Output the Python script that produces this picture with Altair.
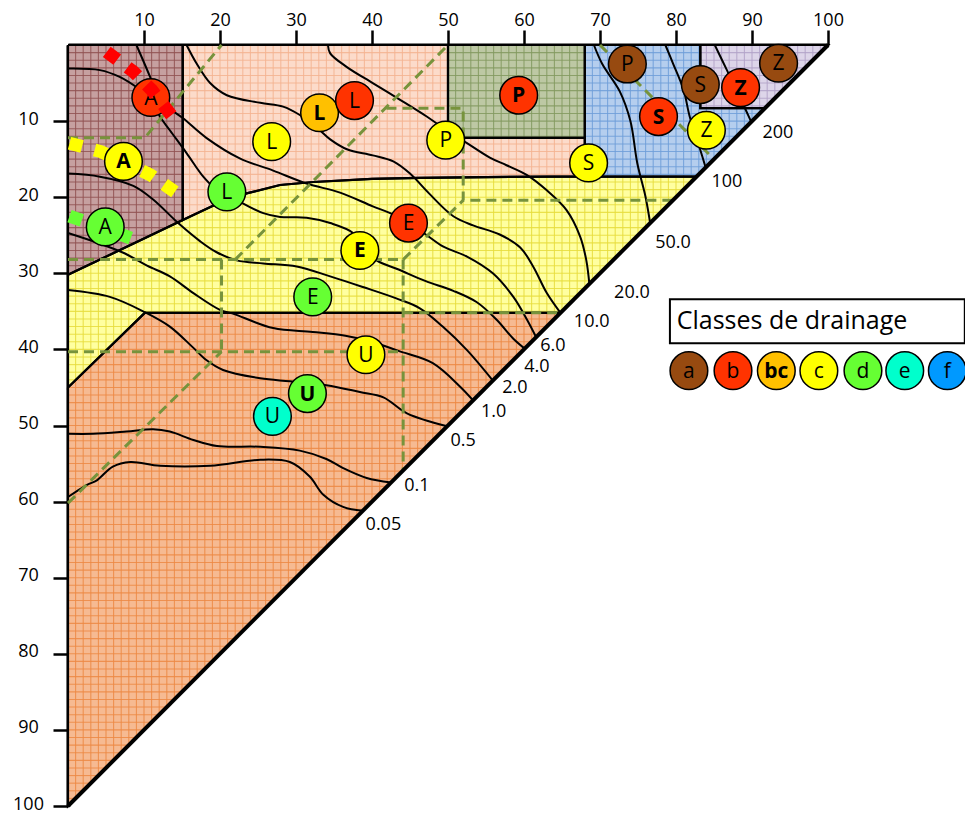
import altair as alt
import pandas as pd

# ---------------------------------------------------------------------------
# Data (x = top axis %, y = left axis %, origin top-left, hypotenuse x + y = 100)
# ---------------------------------------------------------------------------
yellow_top = [(0, 30.2), (15.1, 23.0), (17.4, 21.9), (20, 20.7), (23.5, 19.5),
              (27.9, 18.4), (32.3, 18.0), (40, 17.6), (46.3, 17.45), (55, 17.35),
              (63.4, 17.3), (82.7, 17.3)]

region_mauve = [(0, 0), (15.1, 0), (15.1, 23.0), (0, 30.2)]
region_peach = [(15.1, 0), (50, 0), (50, 12.2), (68, 12.2), (68, 17.3)] + yellow_top[1:-1][::-1]
region_yellow = yellow_top + [(64.8, 35.2), (10.1, 35.2), (0, 45)]
region_orange = [(0, 45), (10.1, 35.2), (64.8, 35.2), (0, 100)]
region_green = [(50, 0), (68, 0), (68, 12.2), (50, 12.2)]
region_blue = [(68, 0), (83.2, 0), (83.2, 8.3), (91.7, 8.3), (82.7, 17.3), (68, 17.3)]
region_purple = [(83.2, 0), (100, 0), (91.7, 8.3), (83.2, 8.3)]

# (polygon, fill, texture colour)
regions = [
    (region_orange, "#F6BA92", "#EC8844"),
    (region_yellow, "#FFFFA0", "#E6DC3C"),
    (region_mauve, "#C6A0A0", "#915252"),
    (region_peach, "#FCDBCA", "#F3B390"),
    (region_green, "#BDC8A4", "#83995F"),
    (region_blue, "#B5CEEE", "#6E9ED8"),
    (region_purple, "#DDD5E9", "#B2A2C8"),
]

# iso-lines, labelled along the hypotenuse
contours = {
    "0.05": [(0, 59.4), (2.5, 57.8), (3.8, 57.2), (5.9, 55.4), (8.2, 54.8), (12.1, 55.3),
             (18.7, 55.3), (25.3, 54.5), (29.2, 54.8), (31.8, 56.7), (33.6, 59.1),
             (36.2, 60.7), (38.8, 61.2)],
    "0.1": [(0, 51.1), (3.3, 51.1), (7.7, 50.8), (11.2, 50.5), (13.4, 50.8), (16.5, 51.9),
            (19.6, 52.7), (25.3, 52.8), (30.5, 53.3), (34, 54.4), (36.2, 55.6),
            (39.3, 56.9), (42.5, 57.5)],
    "0.5": [(0, 32.2), (5.5, 33.1), (10.1, 35.1), (13.4, 37), (16.4, 39.7), (18.2, 41.4),
            (20.4, 42.7), (25.3, 43.8), (29.2, 44.2), (34, 44.7), (38.4, 45.6),
            (41.5, 46.3), (44.6, 48.4), (49.9, 50.1)],
    "1.0": [(0, 24.7), (4.2, 26.1), (7.5, 27.4), (10.4, 29), (13.4, 30.4), (16.5, 32.6),
            (20, 34.8), (21.7, 35.3), (27, 37.2), (32.2, 37.7), (36.5, 38.2), (40, 39),
            (43.5, 40.2), (48, 41.8), (51.6, 44.9), (53.3, 46.7)],
    "2.0": [(0, 16.9), (4.2, 17.3), (8.6, 18.5), (11.2, 20.3), (14.5, 23.4), (17.4, 25.8),
            (19.5, 27.2), (22.2, 28.3), (25.7, 28.7), (30.1, 29.1), (34.5, 30.4),
            (38.8, 31.8), (43.2, 33.3), (46.3, 34.6), (49.3, 37), (52.5, 40.1), (55.9, 44.1)],
    "4.0": [(0, 3.1), (4.2, 3.3), (6.8, 4.2), (9.5, 5.9), (11, 7.2), (12.1, 9.4),
            (13.4, 11.2), (15.6, 14.2), (17.8, 17.3), (19.1, 18.6), (21, 19.6), (23, 20.8),
            (25.7, 22.1), (27.9, 22.6), (31.4, 22.7), (34.5, 23.4), (37.5, 24.7),
            (38.6, 26.5), (40.6, 28.3), (43.5, 29.5), (47, 31), (50.7, 32.3), (53.8, 33.8),
            (56.4, 36.1), (58.6, 38.6), (60.1, 39.9)],
    "6.0": [(9, 0), (10.8, 4.2), (11.8, 6.8), (13.3, 8.3), (15.1, 9.6), (18.2, 12.2),
            (22.6, 14.9), (27, 16.5), (31.4, 18.2), (35.8, 19.4), (40.1, 21.2), (42.4, 22.1),
            (44.8, 23.5), (46.8, 24.7), (49.4, 26.5), (52.5, 27.8), (55.9, 30), (58.6, 33.1),
            (60.4, 36.1), (61.6, 38.4)],
    "10.0": [(15.6, 0), (16.9, 2.4), (18.7, 5), (20.9, 6.6), (25.3, 7.6), (28.3, 8.1),
             (30.5, 9.2), (32.9, 11.0), (34.5, 12.4), (36.7, 13.7), (40.1, 14.5), (42.8, 15.3),
             (45, 16.9), (47.5, 19.5), (50.7, 22.5), (53.3, 23.7), (56.8, 24.9), (59.5, 26.6),
             (61.2, 29.1), (63, 32.6), (64.8, 35.2)],
    "20.0": [(34.2, 0), (34.5, 1.1), (36.7, 2.9), (40.1, 5), (43.7, 7.2), (47.2, 9.4),
             (49.5, 11), (52.5, 12.9), (55.5, 14.8), (57.7, 15.8), (60.4, 17.1), (63, 19.1),
             (65.6, 21.7), (67.4, 25.2), (68.2, 28.3), (68.6, 31.4)],
    "50.0": [(69.2, 0), (70.3, 2.5), (72.6, 6.1), (74, 10), (74.9, 15.5), (76, 20), (76.6, 23.4)],
    "100": [(78.6, 0), (79.6, 2.4), (81, 5.9), (81.8, 9.4), (83.2, 13.8), (83.9, 16.1)],
    "200": [(85.1, 0), (86.7, 3.3), (88.4, 6.8), (89.3, 8.8), (89.9, 10.1)],
}

# label positions along the hypotenuse
contour_label_names = ["200", "100", "50.0", "20.0", "10.0", "6.0", "4.0", "2.0", "1.0", "0.5", "0.1", "0.05"]
contour_label_x = [93.4, 86.7, 79.6, 74.2, 68.9, 63.8, 61.7, 58.8, 56.0, 52.0, 45.9, 41.5]
contour_label_y = [11.6, 18.0, 26.0, 32.6, 36.4, 39.5, 42.3, 45.1, 48.2, 52.1, 58.0, 63.1]

# dashed class boundaries
dashed_segments = [
    [(0, 12.2), (10.1, 12.2), (20.2, 0)],
    [(0, 28.2), (44.1, 28.2)],
    [(22.0, 28.2), (50, 0)],
    [(41.9, 8.3), (52, 8.3), (52, 20.4), (79.6, 20.4)],
    [(44.1, 28.2), (52, 20.4)],
    [(44.1, 28.2), (44.1, 55.9)],
    [(0, 40.3), (44.1, 40.3)],
    [(20.2, 28.2), (20.2, 40.3)],
    [(0, 60.2), (20.2, 40.3)],
    [(70, 0), (85, 15)],
    [(44.1, 35.2), (64.8, 35.2)],
]

# thick dotted limits
dotted_red = [(5.1, 0.9), (8.6, 3.5), (11, 5.9), (14.2, 10.0)]
dotted_yellow = [(0.2, 12.9), (4.3, 14), (7.6, 15.5), (10.9, 17.1), (14.5, 19.6)]
dotted_green = [(0.2, 22.5), (4.4, 23.95), (8.6, 25.5)]

# drainage-class circles
PAL = {"a": "#974A10", "b": "#FF3300", "bc": "#FFC000", "c": "#FFFF00",
       "d": "#66FF33", "e": "#00FFCC", "f": "#0099FF"}
site_x = [10.9, 7.3, 4.9, 20.9, 26.8, 33.1, 37.7, 49.7, 59.3, 44.8, 38.4, 32.2,
          39.2, 31.5, 26.9, 68.5, 77.7, 84.0, 73.6, 83.2, 88.5, 93.5]
site_y = [6.9, 15.3, 23.9, 19.3, 12.7, 8.9, 7.3, 12.5, 6.6, 23.4, 27.0, 33.1,
          40.7, 45.8, 48.8, 15.5, 9.4, 11.2, 2.5, 5.2, 5.6, 2.4]
site_text = ["A", "A", "A", "L", "L", "L", "L", "P", "P", "E", "E", "E",
             "U", "U", "U", "S", "S", "Z", "P", "S", "Z", "Z"]
site_class = ["b", "c", "d", "d", "c", "bc", "b", "c", "b", "b", "c", "d",
              "c", "d", "e", "c", "b", "c", "a", "a", "b", "a"]
site_bold = [False, True, False, False, False, True, False, False, True, False, True, False,
             False, True, False, False, True, False, False, False, True, False]

legend_title = "Classes de drainage"
legend_keys = ["a", "b", "bc", "c", "d", "e", "f"]
legend_x = [81.7, 87.5, 93.2, 98.8, 104.6, 110.1, 115.7]
legend_y = 42.8

# ---------------------------------------------------------------------------
FONT = "Open Sans"
CIRCLE_SIZE = 1420
XS = alt.Scale(domain=[0, 100], nice=False, zero=False)
YS = alt.Scale(domain=[0, 100], nice=False, zero=False, reverse=True)
XAX = alt.Axis(orient="top", values=list(range(10, 101, 10)), title=None, grid=False,
               domainWidth=4, domainColor="black", tickWidth=2.5, tickSize=15,
               tickColor="black", labelFontSize=18, labelFont=FONT, labelColor="black",
               labelPadding=1, labelFlush=False, labelOverlap=False)
YAX = alt.Axis(orient="left", values=list(range(10, 101, 10)), title=None, grid=False,
               domainWidth=4, domainColor="black", tickWidth=2.5, tickSize=15,
               tickColor="black", labelFontSize=18, labelFont=FONT, labelColor="black",
               labelAlign="center", labelPadding=25, labelOffset=-2, labelOverlap=False,
               labelFlush=False)


def X(field="x", **kw):
    return alt.X(f"{field}:Q", scale=XS, axis=XAX, **kw)


def Y(field="y", **kw):
    return alt.Y(f"{field}:Q", scale=YS, axis=YAX, **kw)


def path_frame(groups):
    rows = []
    for gid, pts in enumerate(groups):
        for i, (x, y) in enumerate(pts):
            rows.append({"g": gid, "i": i, "x": x, "y": y})
    return pd.DataFrame(rows)


def texture_segments(poly, vertical):
    """Unit grid lines cut to the inside of a polygon (scan-line crossings)."""
    rows = []
    n = len(poly)
    for v in range(1, 100):
        cuts = []
        for k in range(n):
            (x1, y1), (x2, y2) = poly[k], poly[(k + 1) % n]
            a1, b1, a2, b2 = (x1, y1, x2, y2) if vertical else (y1, x1, y2, x2)
            if (a1 <= v < a2) or (a2 <= v < a1):
                t = (v - a1) / (a2 - a1)
                cuts.append(b1 + t * (b2 - b1))
        cuts.sort()
        for p in range(0, len(cuts) - 1, 2):
            if vertical:
                rows.append({"x": v, "x2": v, "y": cuts[p], "y2": cuts[p + 1]})
            else:
                rows.append({"y": v, "y2": v, "x": cuts[p], "x2": cuts[p + 1]})
    return rows


layers = []

# filled regions
for pts, col, _ in regions:
    closed = pts + [pts[0]]
    layers.append(
        alt.Chart(path_frame([closed])).mark_line(fill=col, strokeOpacity=0)
        .encode(x=X(), y=Y(), order="i:Q")
    )

# grid texture of each region
for pts, _, tex in regions:
    segs = pd.DataFrame(texture_segments(pts, True) + texture_segments(pts, False))
    layers.append(
        alt.Chart(segs).mark_rule(stroke=tex, strokeWidth=1.1, strokeOpacity=0.85)
        .encode(x=X(), x2="x2:Q", y=Y(), y2="y2:Q")
    )

# region outlines
for pts, _, _ in regions:
    closed = pts + [pts[0]]
    layers.append(
        alt.Chart(path_frame([closed])).mark_line(stroke="black", strokeWidth=2.2, strokeJoin="miter")
        .encode(x=X(), y=Y(), order="i:Q")
    )

# iso-lines
cdf = path_frame(list(contours.values()))
layers.append(
    alt.Chart(cdf).mark_line(stroke="black", strokeWidth=2, interpolate="catmull-rom")
    .encode(x=X(), y=Y(), detail="g:N", order="i:Q")
)

# dashed class boundaries
ddf = path_frame(dashed_segments)
layers.append(
    alt.Chart(ddf).mark_line(stroke="#77933C", strokeWidth=3, strokeDash=[10, 6])
    .encode(x=X(), y=Y(), detail="g:N", order="i:Q")
)

# yellow and green dotted limits (under the circles)
for pts, col in [(dotted_yellow, "#FFFF00"), (dotted_green, "#66FF33")]:
    layers.append(
        alt.Chart(path_frame([pts])).mark_line(stroke=col, strokeWidth=13,
                                               strokeDash=[13, 13], strokeCap="butt")
        .encode(x=X(), y=Y(), order="i:Q")
    )

# hypotenuse
hyp = path_frame([[(0, 100), (100, 0)]])
layers.append(alt.Chart(hyp).mark_line(stroke="black", strokeWidth=4)
              .encode(x=X(), y=Y(), order="i:Q"))

# circles
sites = pd.DataFrame({"x": site_x, "y": site_y, "t": site_text,
                      "fill": [PAL[c] for c in site_class], "bold": site_bold})
layers.append(alt.Chart(sites).mark_circle(size=CIRCLE_SIZE, stroke="black", strokeWidth=1.5, opacity=1)
              .encode(x=X(), y=Y(), color=alt.Color("fill:N", scale=None)))
layers.append(alt.Chart(sites).transform_filter("!datum.bold")
              .mark_text(font=FONT, fontSize=21, color="black", baseline="middle", dy=1)
              .encode(x=X(), y=Y(), text="t:N"))
layers.append(alt.Chart(sites).transform_filter("datum.bold")
              .mark_text(font=FONT, fontSize=21, fontWeight="bold", color="black",
                         baseline="middle", dy=1)
              .encode(x=X(), y=Y(), text="t:N"))

# red dotted limit (over the circle)
layers.append(
    alt.Chart(path_frame([dotted_red])).mark_line(stroke="#FF0000", strokeWidth=13,
                                                  strokeDash=[13, 13], strokeCap="butt")
    .encode(x=X(), y=Y(), order="i:Q")
)

# hypotenuse labels
labs = pd.DataFrame({"x": contour_label_x, "y": contour_label_y, "t": contour_label_names})
layers.append(alt.Chart(labs).mark_text(font=FONT, fontSize=18, color="black", baseline="middle")
              .encode(x=X(), y=Y(), text="t:N"))

# legend
box = pd.DataFrame({"x": [79.2], "x2": [118.0], "y": [33.4], "y2": [39.2]})
layers.append(alt.Chart(box).mark_rect(fill="white", stroke="black", strokeWidth=2)
              .encode(x=X(), x2="x2:Q", y=Y(), y2="y2:Q"))
ltitle = pd.DataFrame({"x": [80.1], "y": [36.3], "t": [legend_title]})
layers.append(alt.Chart(ltitle).mark_text(font=FONT, fontSize=25, color="black",
                                          align="left", baseline="middle")
              .encode(x=X(), y=Y(), text="t:N"))
leg = pd.DataFrame({"x": legend_x, "y": [legend_y] * len(legend_keys), "t": legend_keys,
                    "fill": [PAL[k] for k in legend_keys],
                    "bold": [k == "bc" for k in legend_keys]})
layers.append(alt.Chart(leg).mark_circle(size=CIRCLE_SIZE, stroke="black", strokeWidth=1.5, opacity=1)
              .encode(x=X(), y=Y(), color=alt.Color("fill:N", scale=None)))
layers.append(alt.Chart(leg).transform_filter("!datum.bold")
              .mark_text(font=FONT, fontSize=21, color="black", baseline="middle", dy=1)
              .encode(x=X(), y=Y(), text="t:N"))
layers.append(alt.Chart(leg).transform_filter("datum.bold")
              .mark_text(font=FONT, fontSize=21, fontWeight="bold", color="black",
                         baseline="middle", dy=1)
              .encode(x=X(), y=Y(), text="t:N"))

chart = (
    alt.layer(*layers)
    .properties(width=760, height=761, autosize="none",
                padding={"left": 68, "top": 45, "right": 137, "bottom": 8})
    .configure_view(stroke=None)
)

chart.save("out.html", embed_options={"renderer": "svg", "actions": False})
